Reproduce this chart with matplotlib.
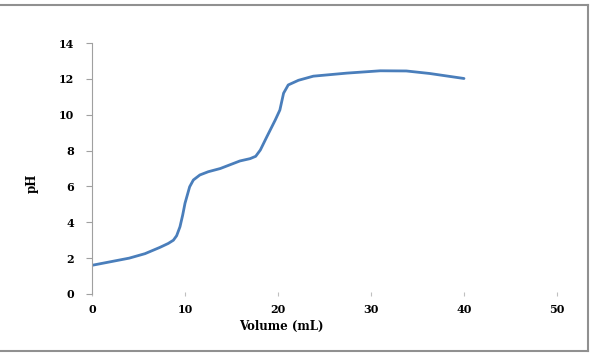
import matplotlib
matplotlib.use("Agg")
import matplotlib.pyplot as plt
from matplotlib.lines import Line2D

volume = [0, 2, 4, 5.7, 7.3, 8.2, 8.75, 9.1, 9.46, 9.75, 10.0, 10.5, 10.9, 11.6, 12.5,
          13.8, 15.9, 17.0, 17.6, 18.1, 18.8, 19.7, 20.2, 20.6, 21.1, 22.2, 23.8,
          27.4, 31, 33.8, 36.3, 40]
ph = [1.6, 1.8, 2.0, 2.25, 2.6, 2.82, 3.0, 3.25, 3.75, 4.4, 5.06, 5.98, 6.36, 6.64, 6.82,
      7.0, 7.42, 7.55, 7.68, 8.03, 8.77, 9.7, 10.26, 11.2, 11.66, 11.92, 12.15,
      12.32, 12.45, 12.44, 12.3, 12.02]
xticks = [0, 10, 20, 30, 40, 50]
yticks = [0, 2, 4, 6, 8, 10, 12, 14]

plt.rcParams['font.family'] = ['DejaVu Serif']

fig = plt.figure(figsize=(5.94, 3.53), dpi=100)
ax = fig.add_axes([92/594, 1-294/353, (557-92)/594, (294-43)/353])
ax.plot(volume, ph, color='#4a7ebb', lw=2.0, solid_capstyle='round', solid_joinstyle='round')
ax.set_xlim(0, 50)
ax.set_ylim(0, 14)
ax.set_xticks(xticks)
ax.set_yticks(yticks)
for s in ['top', 'right', 'bottom']:
    ax.spines[s].set_visible(False)
ax.spines['left'].set_color('#a0a0a0')
ax.spines['left'].set_linewidth(0.8)
ax.tick_params(axis='y', length=4, width=0.8, color='#a0a0a0', pad=9, labelsize=8)
ax.tick_params(axis='x', length=3, width=0.8, color='#c0c0c0', direction='inout', pad=6, labelsize=8)
for lab in ax.get_xticklabels() + ax.get_yticklabels():
    lab.set_fontweight('bold')

fig.text(281/594, 1-326/353, 'Volume (mL)', ha='center', va='center', fontsize=8.5, fontweight='bold')
fig.text(32/594, 1-183/353, 'pH', ha='center', va='center', rotation=90, fontsize=8.5, fontweight='bold')

# outer frame lines (top, right, bottom)
frame_col = '#909090'
fig.add_artist(Line2D([0, 588/594], [1-5/353, 1-5/353], transform=fig.transFigure, color=frame_col, lw=1.5))
fig.add_artist(Line2D([0, 588/594], [1-351/353, 1-351/353], transform=fig.transFigure, color=frame_col, lw=1.5))
fig.add_artist(Line2D([588/594, 588/594], [1-5/353, 1-351/353], transform=fig.transFigure, color=frame_col, lw=1.5))

fig.savefig('out.png', dpi=100)
